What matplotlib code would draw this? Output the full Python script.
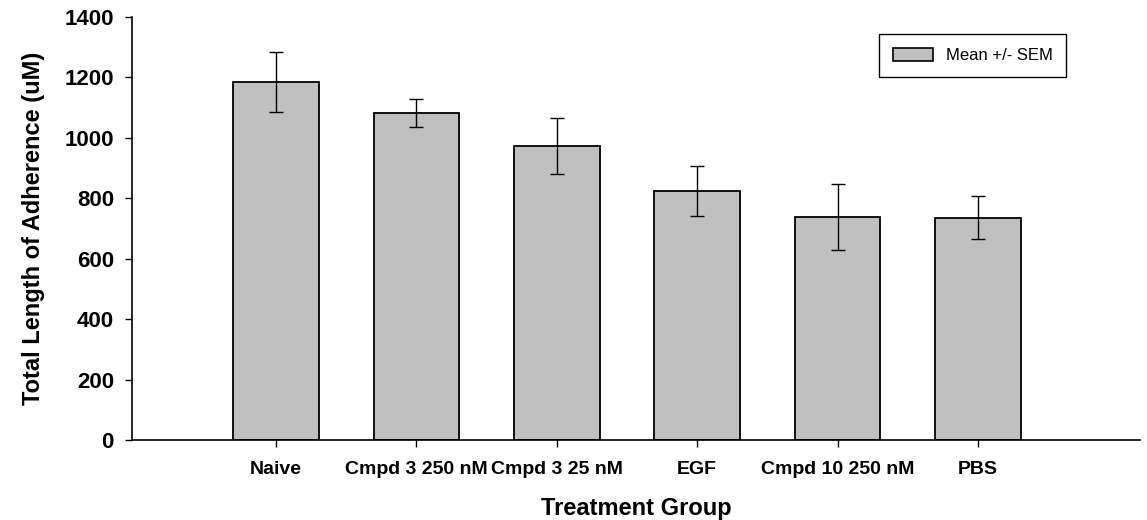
import matplotlib.pyplot as plt
from matplotlib.patches import Patch

groups = ["Naive", "Cmpd 3 250 nM", "Cmpd 3 25 nM", "EGF", "Cmpd 10 250 nM", "PBS"]
means = [1185, 1083, 974, 825, 738, 736]
sems = [99, 47, 93, 83, 110, 70]

plt.rcParams['font.family'] = ['Liberation Sans', 'DejaVu Sans']

fig = plt.figure(figsize=(11.47, 5.2), dpi=100)
ax = fig.add_axes([132 / 1147, 80 / 520, (1140 - 132) / 1147, 423 / 520])

x = list(range(len(groups)))
ax.bar(x, means, width=0.61, color='#c0c0c0', edgecolor='black', linewidth=1.3, zorder=2)
ax.errorbar(x, means, yerr=sems, fmt='none', ecolor='black', elinewidth=1.0,
            capsize=5, capthick=1.0, zorder=3)

ax.set_xlim(-1.026, 6.154)
ax.set_ylim(0, 1400)
ax.set_yticks(range(0, 1401, 200))
ax.set_xticks(x)
ax.set_xticklabels(groups, fontsize=14, fontweight='bold')
for lab in ax.get_yticklabels():
    lab.set_fontsize(16)
    lab.set_fontweight('bold')
ax.tick_params(axis='x', length=5, width=1, pad=10)
ax.tick_params(axis='y', length=5, width=1, pad=8)

ax.spines['top'].set_visible(False)
ax.spines['right'].set_visible(False)
ax.spines['left'].set_linewidth(1.2)
ax.spines['bottom'].set_linewidth(1.2)

ax.set_xlabel('Treatment Group', fontsize=17, fontweight='bold', labelpad=14)
ax.set_ylabel('Total Length of Adherence (uM)', fontsize=17, fontweight='bold', labelpad=14)

handle = Patch(facecolor='#c0c0c0', edgecolor='black', linewidth=1.2, label='Mean +/- SEM')
leg = ax.legend(handles=[handle], loc='upper right', bbox_to_anchor=(0.935, 0.979),
                fancybox=False, edgecolor='black', fontsize=12, handlelength=2.4,
                handleheight=0.9, borderpad=0.8, framealpha=1)
leg.get_frame().set_linewidth(1.0)

plt.savefig('out.png', dpi=100)
plt.close()
